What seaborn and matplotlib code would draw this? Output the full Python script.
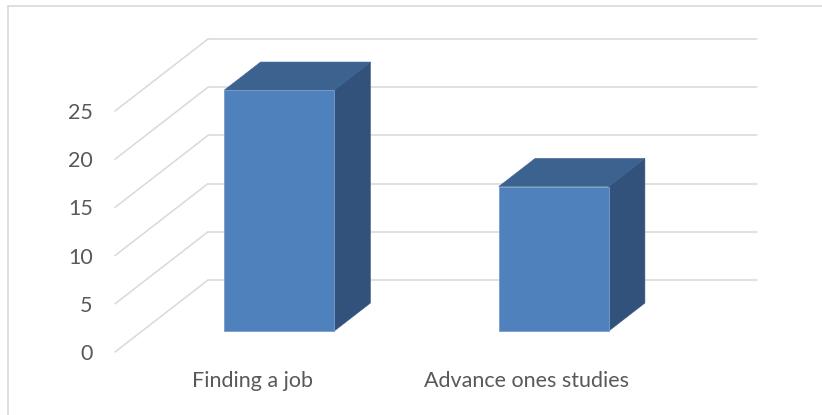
import matplotlib
matplotlib.use("Agg")
import matplotlib.pyplot as plt
from matplotlib.patches import Polygon
from matplotlib.lines import Line2D
from matplotlib.transforms import IdentityTransform, ScaledTranslation
import numpy as np
import seaborn as sns

# Data
categories = ["Finding a job", "Advance ones studies"]
values = [25, 15]
y_ticks = [0, 5, 10, 15, 20, 25]

# Styling
FRONT = "#4F81BD"
TOP = "#3C6290"
SIDE = "#32527B"
GRID = "#D9D9D9"
TEXT = "#595959"

sns.set_theme(style="white")
plt.rcParams["font.family"] = ["Lato", "DejaVu Sans"]

DPI = 100
fig = plt.figure(figsize=(8.22, 4.15), dpi=DPI)
fig.patch.set_facecolor("white")

# Axes frame is the front edge of the floor; depth is drawn as an oblique offset
ax = fig.add_axes([115 / 822, (415 - 352) / 415, 549 / 822, 241 / 415])
ax.set_facecolor("none")

sns.barplot(x=categories, y=values, ax=ax, width=0.4, color=FRONT, saturation=1,
            edgecolor="#7A9CCB", linewidth=0.6, zorder=5)
ax.set_xlim(-0.5, 1.5)
ax.set_ylim(0, 25)
ax.set_yticks(y_ticks)
ax.set_ylabel("")
ax.set_xlabel("")
for s in ax.spines.values():
    s.set_visible(False)
ax.tick_params(axis="y", length=0, pad=16, labelsize=15.5, labelcolor=TEXT)
ax.tick_params(axis="x", length=0, pad=14, labelsize=15.5, labelcolor=TEXT)
ax.grid(False)

# Oblique depth vector (pixels) of the full floor depth
DEPTH = np.array([93.0, 72.0])
BAR_FRONT = 0.29
BAR_BACK = 0.68

fig.canvas.draw()


def proj(x, v, d):
    return ax.transData.transform((x, v)) + d * DEPTH


# Back wall and left wall gridlines
for v in y_ticks:
    a = proj(-0.5, v, 0.0)
    b = proj(-0.5, v, 1.0)
    c = proj(1.5, v, 1.0)
    fig.add_artist(Line2D([a[0], b[0]], [a[1], b[1]], transform=IdentityTransform(),
                          color=GRID, lw=1.1, zorder=1))
    fig.add_artist(Line2D([b[0], c[0]], [b[1], c[1]], transform=IdentityTransform(),
                          color=GRID, lw=1.1, zorder=1))

# Shift bar fronts to their depth and add top and side faces
shift = ScaledTranslation(BAR_FRONT * DEPTH[0] / DPI, BAR_FRONT * DEPTH[1] / DPI,
                          fig.dpi_scale_trans)
for patch in list(ax.patches):
    x0 = patch.get_x()
    w = patch.get_width()
    h = patch.get_height()
    patch.set_transform(ax.transData + shift)
    patch.set_clip_on(False)
    d = BAR_BACK - BAR_FRONT
    tl = proj(x0, h, BAR_FRONT)
    tr = proj(x0 + w, h, BAR_FRONT)
    br = proj(x0 + w, 0, BAR_FRONT)
    top = Polygon([tl, tr, tr + d * DEPTH, tl + d * DEPTH], closed=True,
                  transform=IdentityTransform(), facecolor=TOP, edgecolor=TOP,
                  lw=0.4, zorder=4)
    side = Polygon([tr, br, br + d * DEPTH, tr + d * DEPTH], closed=True,
                   transform=IdentityTransform(), facecolor=SIDE, edgecolor=SIDE,
                   lw=0.4, zorder=3)
    fig.add_artist(side)
    fig.add_artist(top)
    patch.remove()
    fig.add_artist(patch)
    patch.set_zorder(5)

# Chart area border
fig.add_artist(Line2D([8, 822], [415 - 6, 415 - 6], transform=IdentityTransform(),
                      color=GRID, lw=1.2))
fig.add_artist(Line2D([8, 8], [0, 415 - 6], transform=IdentityTransform(),
                      color=GRID, lw=1.2))

fig.savefig("out.png", dpi=DPI, facecolor="white")
